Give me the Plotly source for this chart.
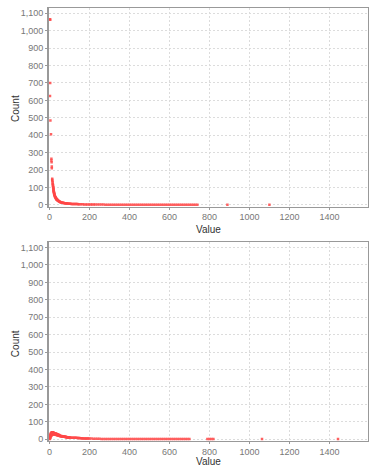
import plotly.graph_objects as go
from plotly.subplots import make_subplots

# Top chart data (Value, Count)
top_values = [3, 4, 4, 3, 5, 8, 10, 10, 11, 12, 12, 14, 14, 15,
              16, 17, 17, 18, 18, 19, 19, 20, 20, 21, 21, 22, 22, 23, 23, 24, 24, 25, 25,
              26, 27, 28, 29, 30, 31, 32, 33, 34, 35, 36, 37, 38, 39, 40, 42, 44, 46, 48, 50,
              52, 54, 56, 58, 60, 63, 66, 69, 72, 75, 78, 81, 84, 87, 90, 94, 98, 102, 106,
              110, 115, 120, 125, 130, 135, 140, 145, 150, 158, 166, 174, 182, 190, 198,
              206, 214, 222, 230, 240, 250, 260, 270, 280, 290, 300, 310, 320, 330, 340, 350,
              360, 370, 380, 390, 400, 410, 420, 430, 440, 450, 460, 470, 480, 490, 500, 510,
              520, 530, 540, 550, 560, 570, 580, 590, 600, 610, 620, 630, 640, 650, 660, 670,
              680, 690, 700, 710, 720, 730, 740, 890, 1100]
top_counts = [1065, 1062, 700, 625, 485, 405, 265, 255, 245, 220, 210, 150, 145, 138,
              130, 122, 118, 112, 108, 102, 98, 94, 90, 86, 82, 79, 75, 72, 69, 66, 63, 60, 57,
              55, 52, 49, 46, 44, 42, 40, 38, 36, 34, 33, 31, 30, 29, 28, 26, 24, 22, 21, 19,
              18, 17, 16, 15, 14, 13, 12, 12, 11, 10, 10, 9, 9, 8, 8, 8, 7, 7, 7,
              6, 6, 6, 5, 5, 5, 5, 4, 4, 4, 4, 3, 3, 3, 3,
              3, 2, 2, 2, 2, 2, 2, 2, 1, 1, 1, 1, 1, 1, 1, 1,
              1, 1, 1, 1, 1, 1, 1, 1, 1, 1, 1, 1, 1, 1, 1, 1,
              1, 1, 1, 1, 1, 1, 1, 1, 1, 1, 1, 1, 1, 1, 1, 1,
              1, 1, 1, 1, 1, 1, 1, 1, 1]

# Bottom chart data (Value, Count)
bottom_values = [2, 3, 4, 5, 6, 7, 8, 9, 10, 11, 12, 13, 14, 15, 16, 17, 18, 19, 20,
                 22, 24, 26, 28, 30, 32, 34, 36, 38, 40, 42, 44, 46, 48, 50,
                 2, 4, 6, 8, 10, 12, 14, 16, 18, 20, 22, 24, 26, 28, 30, 32, 34, 36, 38, 40,
                 43, 46, 49, 52, 55, 58, 61, 64, 67, 70, 73, 76, 79, 82, 85, 88, 91, 94, 97, 100,
                 55, 60, 65, 70, 75, 80, 85, 90, 95, 100,
                 105, 110, 115, 120, 125, 130, 135, 140, 145, 150, 155, 160, 165, 170, 175, 180,
                 185, 190, 195, 200, 210, 220, 230, 240, 250, 260, 270, 280, 290, 300, 310, 320,
                 330, 340, 350, 360, 370, 380, 390, 400, 410, 420, 430, 440, 450, 460, 470, 480,
                 490, 500, 510, 520, 530, 540, 550, 560, 570, 580, 590, 600, 610, 620, 630, 640,
                 650, 660, 670, 680, 690, 700, 790, 800, 810, 820, 1063, 1443]
bottom_counts = [6, 12, 18, 24, 28, 31, 33, 35, 36, 37, 38, 39, 40, 40, 39, 39, 38, 38, 37,
                 36, 35, 34, 33, 33, 32, 31, 30, 29, 28, 27, 26, 25, 24, 23,
                 2, 6, 12, 18, 22, 25, 27, 28, 29, 30, 30, 29, 29, 28, 28, 27, 26, 25, 24, 23,
                 22, 21, 20, 19, 18, 17, 17, 16, 16, 15, 15, 14, 13, 13, 12, 12, 11, 11, 10, 10,
                 19, 18, 17, 16, 15, 14, 13, 12, 11, 10,
                 10, 9, 9, 9, 8, 8, 8, 7, 7, 7, 6, 6, 6, 5, 5, 5,
                 5, 4, 4, 4, 4, 3, 3, 3, 3, 2, 2, 2, 2, 2, 2, 1,
                 1, 1, 1, 1, 1, 1, 1, 1, 1, 1, 1, 1, 1, 1, 1, 1,
                 1, 1, 1, 1, 1, 1, 1, 1, 1, 1, 1, 1, 1, 1, 1, 1,
                 1, 1, 1, 1, 1, 1, 1, 1, 1, 1, 1, 1]

y_ticks = [0, 100, 200, 300, 400, 500, 600, 700, 800, 900, 1000, 1100]
x_ticks = [0, 200, 400, 600, 800, 1000, 1200, 1400]
x_title = "Value"
y_title = "Count"

fig = make_subplots(rows=2, cols=1, vertical_spacing=0.0823)
marker = dict(symbol="square", size=2.5, color="rgba(255,70,70,0.85)", line=dict(width=0))
fig.add_trace(go.Scatter(x=top_values, y=top_counts, mode="markers", marker=marker,
                         showlegend=False), row=1, col=1)
fig.add_trace(go.Scatter(x=bottom_values, y=bottom_counts, mode="markers", marker=marker,
                         showlegend=False), row=2, col=1)

font = dict(family="Liberation Sans, Arial, sans-serif", size=9, color="#777777")
title_font = dict(family="Liberation Sans, Arial, sans-serif", size=10, color="#333333")

for r in (1, 2):
    fig.update_xaxes(row=r, col=1, range=[-2, 1593], tickvals=x_ticks,
                     ticktext=[str(v) for v in x_ticks], tickfont=font,
                     ticklabelstandoff=0, automargin=False,
                     showgrid=True, gridcolor="#dcdcdc", griddash="2px,2px", gridwidth=1,
                     zeroline=False, showline=True, linecolor="#999999", linewidth=1,
                     mirror=True, ticks="outside", ticklen=2, tickcolor="#999999")
    fig.update_yaxes(row=r, col=1, range=[-10, 1130], tickvals=y_ticks,
                     ticktext=[f"{v:,}" for v in y_ticks], tickfont=font,
                     automargin=False,
                     showgrid=True, gridcolor="#dcdcdc", griddash="2px,2px", gridwidth=1,
                     zeroline=False, showline=True, linecolor="#999999", linewidth=2,
                     mirror=True, ticks="outside", ticklen=2, tickcolor="#999999")

# axis titles as paper-anchored annotations
fig.add_annotation(text=x_title, xref="paper", yref="paper", x=0.5, y=0.5035,
                   showarrow=False, font=title_font, xanchor="center", yanchor="top",
                   borderpad=0)
fig.add_annotation(text=x_title, xref="paper", yref="paper", x=0.5, y=-0.0624,
                   showarrow=False, font=title_font, xanchor="center", yanchor="bottom",
                   borderpad=0)
for ty in (0.769, 0.226):
    fig.add_annotation(text=y_title, xref="paper", yref="paper", x=-0.1066, y=ty,
                       showarrow=False, font=title_font, textangle=-90,
                       xanchor="center", yanchor="middle")

fig.update_layout(
    width=369, height=468,
    margin=dict(l=49, r=1, t=8, b=27),
    paper_bgcolor="white", plot_bgcolor="white",
)

fig.write_html("out.html")
